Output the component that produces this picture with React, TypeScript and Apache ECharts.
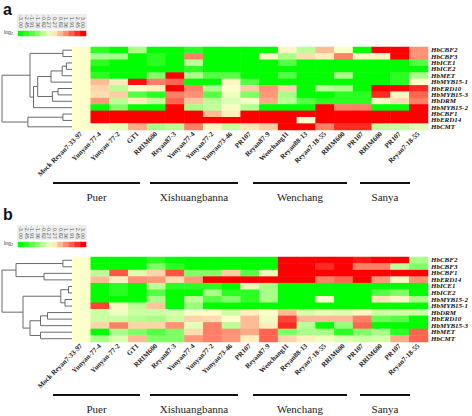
import React, { useEffect, useRef } from "react";
import * as echarts from "echarts";

const columns = [
  "Mock Reyan7-33-97", "Yunyan-77-4", "Yunyan-77-2", "GT1", "RRIM600", "Reyan87-3",
  "Yunyan77-4", "Yunyan77-2", "Yunyan73-46", "PR107", "Reyan87-9", "Wenchang11",
  "Reyan88-13", "Reyan7-18-55", "RRIM600", "PR107", "RRIM600", "PR107", "Reyan7-18-55",
];

const legendTicks = ["-3.00", "-2.45", "-1.91", "-1.36", "-0.82", "-0.27", "0.27", "0.82", "1.36", "1.91", "2.45", "3.00"];
const legendValues = [-3, -2.45, -1.91, -1.36, -0.82, -0.27, 0.27, 0.82, 1.36, 1.91, 2.45, 3];

const genesA = ["HbCBF2", "HbCBF3", "HbICE1", "HbICE2", "HbMET", "HbMYB15-1", "HbERD10", "HbMYB15-3", "HbDRM", "HbMYB15-2", "HbCBF1", "HbERD14", "HbCMT"];
const valuesA = [
  [0, -2.5, -3, -1, -3, -3, -2.5, -3, -3, -3, -3, 0.1, -0.8, 0.8, 0, -3, 3, 3, 1.3],
  [0, -1, -1, -3, -2.5, -3, 1.5, -3, -3, -3, 0.1, -1, 0.4, 0.2, 1.5, 0.1, 0.1, 3, 1.3],
  [0, -2.5, -3, -3, -2.5, -3, -0.8, -3, -3, -3, -3, -2, -3, -3, -3, -3, -3, -3, -2],
  [0, -3, -3, -3, -3, -3, -2.5, -3, -3, -3, -3, -3, -3, -3, -3, -3, -3, -3, -3],
  [0, -2.5, -3, -3, -1.5, 3, -1, -2, -2, -3, -3, -2, -3, -3, -1, -3, -3, -2.5, -1],
  [0, 0.8, 0.2, 2.8, 1.5, 1.8, -3, -3, 0.1, -2, -3, -3, -3, -3, -3, -3, -3, -2.5, 0],
  [0, 0.5, -0.8, 0, 0.2, 3, 1.5, -1, 0, 0.6, 1.3, 0.5, -3, -0.8, -1, -3, 3, 3, 2.5],
  [0, 0.4, 0.6, -2, -2.5, 1.5, 1.3, -2, -0.2, -1.5, 1.2, -1, -3, -3, -2.5, -2.5, 2.5, 0.1, 1.8],
  [0, 1.2, -0.8, 0.2, -0.7, 1.8, 0.7, -0.8, -0.4, -0.1, 1, -0.8, -2, -2.5, -2.5, -2.5, 0.1, 0.4, 1.5],
  [0, -3, -1.5, -3, -3, 3, -1, -0.7, -0.1, -0.9, -3, -3, -3, 3, 1.5, 1.5, -3, -3, 3],
  [0, 3, 3, 3, 3, 3, 3, 0.8, 0.2, 3, 3, 3, 3, 3, 3, 3, 3, 3, 3],
  [0, 3, 3, 3, 3, 3, 3, 3, 3, 3, 3, 3, 0, 3, 3, 3, 3, 3, 3],
  [0, 0, -0.3, 1, -1, -0.8, 1.5, 0.1, -0.7, 0.3, 0.6, 3, 3, 1.5, 2.5, 2.5, -0.7, -0.6, -0.3],
];
// merges: [childA, childB, height]; leaves 0..12, internal nodes 13+
const treeA: [number, number, number][] = [
  [0, 1, 0.13],
  [2, 3, 0.08],
  [13 + 1, 4, 0.14],
  [6, 7, 0.2],
  [13 + 3, 8, 0.28],
  [13 + 2, 5, 0.3],
  [13 + 5, 13 + 4, 0.49],
  [13 + 6, 9, 0.55],
  [13 + 0, 13 + 7, 0.6],
  [10, 11, 0.13],
  [13 + 9, 12, 0.63],
  [13 + 8, 13 + 10, 1.0],
];

const genesB = ["HbCBF2", "HbCBF3", "HbCBF1", "HbERD14", "HbICE1", "HbICE2", "HbMYB15-2", "HbMYB15-1", "HbDRM", "HbERD10", "HbMYB15-3", "HbMET", "HbCMT"];
const valuesB = [
  [0, -3, -3, -3, -2.5, -3, -3, -3, -3, -3, -3, 3, 3, 3, 3, 2.7, 3, 3, -1],
  [0, -3, -3, -3, -1.5, -2.5, -3, -3, -3, -3, -3, 3, 3, 2.5, 3, 1.5, 1.5, -0.8, -1.5],
  [0, -0.8, 2, -0.4, 0.5, 2, -1.5, -1.5, 0.6, -2, -0.3, 3, 3, 3, 3, 3, 3, 3, 3],
  [0, 0.8, 0.2, 1.3, 1.2, 0.4, 1.2, 3, 3, 3, 3, 3, 3, 1.5, 1.8, 3, 1.2, 0.1, 1.3],
  [0, -3, -2.5, -3, -0.8, -2.5, -2.5, -2.5, -3, -0.3, -1, -3, -3, -3, -3, -3, -3, -3, -3],
  [0, -3, -2.5, -3, -2, -3, -3, -1, -2.5, -2.5, -1, -3, -3, -3, -3, -3, -2, -1.5, -3],
  [0, -3, -3, -3, -1, -3, -0.8, -2, -1.5, -2.5, -1, -3, -3, 0, -3, -3, 0.3, 0.1, -1],
  [0, 2.2, 0.1, -0.8, 0.7, -3, -1.2, -3, -3, -3, -3, -3, -3, -3, -3, -3, -3, -3, -3],
  [0, -0.6, -0.2, -0.6, -0.6, -0.5, -0.1, 0, -0.6, 0.2, 0, 0.8, -0.5, -0.3, -0.4, 0.1, -0.6, -0.6, -0.6],
  [0, -0.6, -0.6, -0.9, -1, -0.6, 0.5, 0.4, 0, 0.8, -0.2, 2.2, 0.8, 0.8, 0.8, 1.5, -1.8, -2, -3],
  [0, 0.5, 1.5, 0.5, 0.5, 1.3, -0.3, 1.5, -0.8, 0.8, 0.2, 2.5, -0.8, -3, -1.2, 1.8, -3, -3, -3],
  [0, -3, -1, -1.5, -2, -1.5, 0.4, 1.5, 1.3, 1, 1.8, -1.5, -1, -1, -2.5, -1.5, -1, -2.5, 1.8],
  [0, -1, -0.4, 0.8, -1.5, -1.5, 1.2, 1.5, 1.2, 0.2, 1.8, 0.5, 0.2, -0.2, -0.4, -0.6, -0.5, 1, 1.8],
];
const treeB: [number, number, number][] = [
  [0, 1, 0.13],
  [2, 3, 0.4],
  [13 + 0, 13 + 1, 0.8],
  [4, 5, 0.05],
  [6, 7, 0.1],
  [13 + 3, 13 + 4, 0.16],
  [8, 9, 0.35],
  [13 + 6, 10, 0.45],
  [11, 12, 0.45],
  [13 + 7, 13 + 8, 0.6],
  [13 + 5, 13 + 9, 0.7],
  [13 + 2, 13 + 10, 1.0],
];

const groups = ["Puer", "Xishuangbanna", "Wenchang", "Sanya"];

function treeSegments(merges: [number, number, number][], n: number) {
  const pos: number[] = [];
  const hgt: number[] = [];
  for (let i = 0; i < n; i++) { pos.push(i); hgt.push(0); }
  const segs: number[][] = [];
  merges.forEach(([a, b, h]) => {
    segs.push([hgt[a], pos[a], hgt[b], pos[b], h]);
    pos.push((pos[a] + pos[b]) / 2);
    hgt.push(h);
  });
  return segs;
}

function heatData(vals: number[][]) {
  const out: number[][] = [];
  vals.forEach((row, r) => row.forEach((v, c) => out.push([c, r, v])));
  return out;
}

const serif = "'Liberation Serif', 'Times New Roman', serif";

export default function App() {
  const ref = useRef<HTMLDivElement>(null);
  useEffect(() => {
    if (!ref.current) return;
    const chart = echarts.init(ref.current, null, { renderer: "svg" });

    const panels = [
      { genes: genesA, vals: valuesA, tree: treeA, top: 47, h: 83, legTop: 31, lineY: 183, labY: 197, letter: "a", letterY: 1 },
      { genes: genesB, vals: valuesB, tree: treeB, top: 257, h: 85, legTop: 242, lineY: 395, labY: 409, letter: "b", letterY: 206 },
    ];
    const groupSpans = [[53, 140], [150, 238], [253, 347], [360, 410]];

    const grid: any[] = [];
    const xAxis: any[] = [];
    const yAxis: any[] = [];
    const series: any[] = [];
    const graphic: any[] = [];

    panels.forEach((p) => {
      const gi = grid.length;
      grid.push({ left: 72, top: p.top, width: 356, height: p.h });
      xAxis.push({
        type: "category", gridIndex: gi, data: columns, position: "bottom",
        axisLine: { show: false }, axisTick: { show: false }, splitLine: { show: false },
        axisLabel: { rotate: 45, interval: 0, margin: 3, fontSize: 7, fontWeight: "bold", fontFamily: serif, color: "#222" },
      });
      yAxis.push({
        type: "category", gridIndex: gi, data: p.genes, inverse: true, position: "right",
        axisLine: { show: false }, axisTick: { show: false }, splitLine: { show: false },
        axisLabel: { interval: 0, margin: 3, fontSize: 7, lineHeight: 6, fontWeight: "bold", fontStyle: "italic", fontFamily: serif, color: "#111" },
      });
      series.push({ type: "heatmap", xAxisIndex: gi, yAxisIndex: gi, data: heatData(p.vals), itemStyle: { borderWidth: 0 } });

      const di = grid.length;
      grid.push({ left: 2, top: p.top, width: 70, height: p.h });
      xAxis.push({ type: "value", gridIndex: di, min: 0, max: 1, inverse: true, show: false });
      yAxis.push({ type: "value", gridIndex: di, min: -0.5, max: p.genes.length - 0.5, inverse: true, show: false });
      series.push({
        type: "custom", xAxisIndex: di, yAxisIndex: di, clip: false,
        data: treeSegments(p.tree, p.genes.length),
        encode: { x: [0, 2, 4], y: [1, 3] },
        renderItem: (params: any, api: any) => {
          const hl = api.value(0), yl = api.value(1), hr = api.value(2), yr = api.value(3), h = api.value(4);
          return {
            type: "polyline",
            shape: { points: [api.coord([hl, yl]), api.coord([h, yl]), api.coord([h, yr]), api.coord([hr, yr])] },
            style: { stroke: "#6a6a6a", lineWidth: 1, fill: null },
          };
        },
      });

      const li = grid.length;
      grid.push({ left: 18, top: p.legTop, width: 68, height: 5 });
      xAxis.push({
        type: "category", gridIndex: li, data: legendTicks, position: "top",
        axisLine: { show: false }, axisTick: { show: false },
        axisLabel: { rotate: 90, interval: 0, margin: 3, fontSize: 5, color: "#555", fontFamily: "'DejaVu Sans', sans-serif" },
      });
      yAxis.push({ type: "category", gridIndex: li, data: ["v"], show: false });
      series.push({ type: "heatmap", xAxisIndex: li, yAxisIndex: li, data: legendValues.map((v, i) => [i, 0, v]) });

      graphic.push({ type: "rect", z: -1, shape: { x: 17, y: p.legTop - 17, width: 70, height: 15 }, style: { fill: "#eeeeee" } });
      graphic.push({ type: "text", x: 3, y: p.letterY, style: { text: p.letter, font: "bold 16px 'Liberation Sans', Arial, sans-serif", fill: "#111" } });
      graphic.push({
        type: "text", x: 4, y: p.legTop - 3,
        style: { text: "{a|log}{b|2}", rich: { a: { fontSize: 5, fill: "#444" }, b: { fontSize: 4, fill: "#444", verticalAlign: "bottom", padding: [3, 0, 0, 0] } } },
      });
      groups.forEach((g, k) => {
        const [x1, x2] = groupSpans[k];
        graphic.push({ type: "line", shape: { x1, y1: p.lineY, x2, y2: p.lineY }, style: { stroke: "#111", lineWidth: 2 } });
        graphic.push({
          type: "text", x: (x1 + x2) / 2, y: p.labY,
          style: { text: g, font: `11px ${serif}`, fill: "#222", align: "center", verticalAlign: "middle" },
        });
      });
    });

    chart.setOption({
      animation: false,
      backgroundColor: "#ffffff",
      grid, xAxis, yAxis, series, graphic,
      visualMap: {
        type: "continuous", show: false, min: -3, max: 3, seriesIndex: [0, 2, 3, 5],
        inRange: { color: ["#00ff00", "#ffffcc", "#ff0000"] },
      },
    });
    return () => chart.dispose();
  }, []);
  return <div ref={ref} style={{ width: 472, height: 416, position: "absolute", left: 0, top: 0 }} />;
}
